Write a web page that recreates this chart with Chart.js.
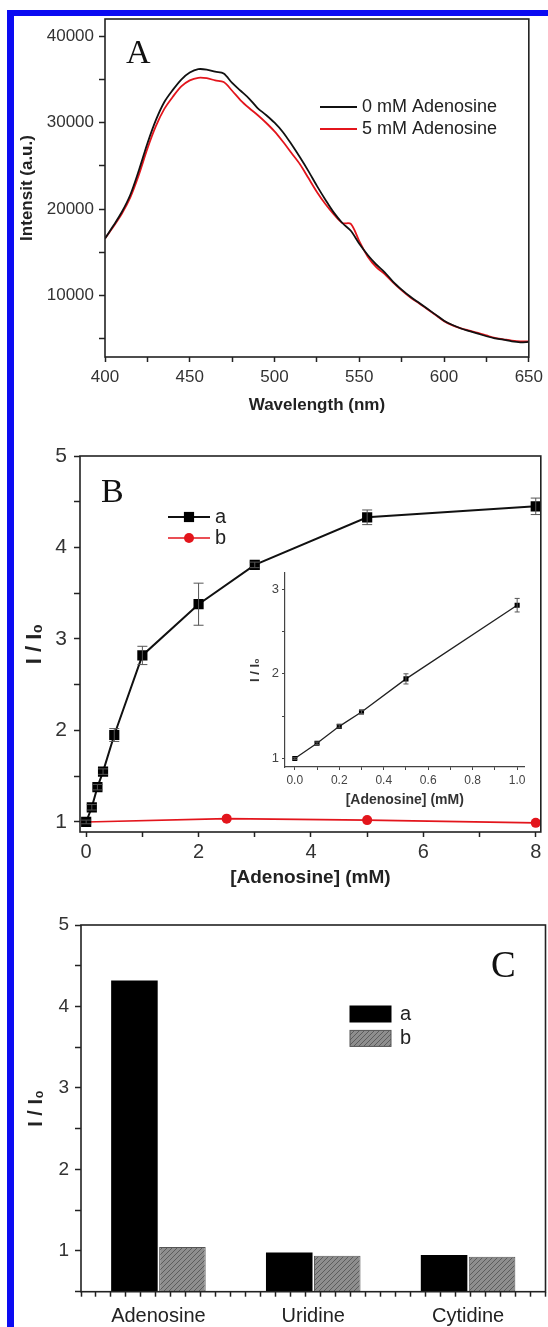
<!DOCTYPE html>
<html>
<head>
<meta charset="utf-8">
<title>Adenosine response</title>
<script src="https://cdn.jsdelivr.net/npm/chart.js@4.4.1/dist/chart.umd.min.js"></script>
<style>
    html, body { margin: 0; padding: 0; background: #fff; }
    #page { position: relative; width: 548px; height: 1327px; overflow: hidden; background: #fff; }
    #page canvas { position: absolute; }
    .edge { position: absolute; background: #0b0bf2; z-index: 5; }
</style>
</head>
<body>
<div id="page">
    <canvas id="chartA" width="548" height="420" style="left:0;top:0"></canvas>
    <canvas id="chartB" width="548" height="470" style="left:0;top:420px"></canvas>
    <canvas id="chartInset" width="310" height="260" style="left:230px;top:560px"></canvas>
    <canvas id="chartC" width="548" height="437" style="left:0;top:890px"></canvas>
    <div class="edge" style="left:7px;top:10px;width:7px;bottom:0"></div>
    <div class="edge" style="left:7px;top:10px;right:0;height:6px"></div>
</div>
<script>
// ---- Panel A: emission spectra
const wavelengths = [400, 405, 410, 415, 420, 425, 430, 435, 440, 445, 450, 455, 460, 465, 470, 475, 480, 485, 490, 495,
    500, 505, 510, 515, 520, 525, 530, 535, 540, 545, 550, 555, 560, 565, 570, 575, 580, 585, 590, 595,
    600, 605, 610, 615, 620, 625, 630, 635, 640, 645, 650];
const intensity0mM = [16600, 18100, 19700, 21700, 24500, 27600, 30300, 32400, 33800, 35000, 35800, 36200, 36150, 35900, 35700, 34600, 33700, 32800, 31700, 30900,
    30000, 28900, 27500, 26000, 24400, 22700, 21100, 19600, 18400, 17500, 16000, 14700, 13600, 12700, 11600, 10700, 9900, 9200, 8500, 7800,
    7100, 6600, 6200, 5900, 5600, 5300, 5050, 4900, 4700, 4600, 4650];
const intensity5mM = [16600, 18000, 19500, 21400, 24000, 27000, 29600, 31600, 33000, 34200, 34900, 35200, 35150, 34900, 34700, 33700, 32600, 31700, 30900, 30000,
    29000, 27800, 26500, 25200, 23600, 22000, 20600, 19400, 18400, 18300, 16300, 14500, 13300, 12500, 11500, 10600, 9800, 9150, 8450, 7750,
    7050, 6550, 6200, 5950, 5700, 5400, 5100, 4950, 4800, 4700, 4700];
const specXTicks = [400, 425, 450, 475, 500, 525, 550, 575, 600, 625, 650];
const specYTicks = [5000, 10000, 15000, 20000, 25000, 30000, 35000, 40000];

// ---- Panel B: titration, a = probe, b = control
const concA = [0, 0.1, 0.2, 0.3, 0.5, 1, 2, 3, 5, 8];
const ratioA = [1.0, 1.16, 1.38, 1.55, 1.95, 2.82, 3.38, 3.81, 4.33, 4.45];
const errA = [0.02, 0.03, 0.03, 0.03, 0.07, 0.1, 0.23, 0.03, 0.08, 0.09];
const concB = [0, 2.5, 5, 8];
const ratioB = [1.0, 1.036, 1.02, 0.99];
const titrXTicks = [0, 1, 2, 3, 4, 5, 6, 7, 8];
const titrYTicks = [1, 1.5, 2, 2.5, 3, 3.5, 4, 4.5, 5];

// inset: linear range
const insetConc = [0, 0.1, 0.2, 0.3, 0.5, 1.0];
const insetRatio = [1.0, 1.18, 1.38, 1.55, 1.94, 2.81];
const insetErr = [0.01, 0.015, 0.02, 0.02, 0.06, 0.08];
const insetXTicks = [0, 0.1, 0.2, 0.3, 0.4, 0.5, 0.6, 0.7, 0.8, 0.9, 1.0];
const insetYTicks = [1, 1.5, 2, 2.5, 3];

// ---- Panel C: selectivity
const nucleosides = ['Adenosine', 'Uridine', 'Cytidine'];
const selectA = [4.32, 0.98, 0.95];
const selectB = [1.05, 0.94, 0.93];
const selectYTicks = [0.5, 1, 1.5, 2, 2.5, 3, 3.5, 4, 4.5, 5];

const FONT = 'Arial, "Liberation Sans", sans-serif';
const SERIF = '"Times New Roman", "Liberation Serif", serif';
const INK = '#222';
const RED = '#e3151c';

const pairs = (xs, ys) => xs.map((x, i) => ({ x, y: ys[i] }));
const fixTicks = values => axis => { axis.ticks = values.map(v => ({ value: v })); };
const fixWidth = w => axis => { axis.width = w; };
const fixHeight = h => axis => { axis.height = h; };

// outward tick marks only, frame is drawn by the plugin below
function axisStyle(tickLen) {
    return {
        border: { display: false },
        grid: { drawOnChartArea: false, drawTicks: true, tickLength: tickLen, tickColor: INK, tickWidth: 1.5 }
    };
}

const framePlugin = {
    id: 'frame',
    defaults: { display: false, color: INK, width: 1.6 },
    afterDraw(chart, args, opts) {
        if (!opts.display) return;
        const { ctx, chartArea: a } = chart;
        ctx.save();
        ctx.strokeStyle = opts.color;
        ctx.lineWidth = opts.width;
        ctx.strokeRect(a.left, a.top, a.right - a.left, a.bottom - a.top);
        ctx.restore();
    }
};

const errorBarPlugin = {
    id: 'errbars',
    afterDatasetsDraw(chart) {
        const ctx = chart.ctx;
        chart.data.datasets.forEach((ds, di) => {
            if (!ds.errors) return;
            const meta = chart.getDatasetMeta(di);
            const ys = chart.scales[meta.yAxisID];
            ctx.save();
            ctx.strokeStyle = ds.errorColor || '#555';
            ctx.lineWidth = 1;
            ds.data.forEach((p, i) => {
                const e = ds.errors[i];
                const x = meta.data[i].x;
                const top = ys.getPixelForValue(p.y + e);
                const bot = ys.getPixelForValue(p.y - e);
                const c = ds.capWidth || 4;
                ctx.beginPath();
                ctx.moveTo(x, top); ctx.lineTo(x, bot);
                ctx.moveTo(x - c, top); ctx.lineTo(x + c, top);
                ctx.moveTo(x - c, bot); ctx.lineTo(x + c, bot);
                ctx.stroke();
            });
            ctx.restore();
        });
    }
};

// hand-placed legend, samples taken from the datasets
const keyPlugin = {
    id: 'key',
    defaults: { display: false },
    afterDraw(chart, args, o) {
        if (!o.display) return;
        const ctx = chart.ctx;
        ctx.save();
        ctx.font = o.font;
        ctx.textBaseline = 'middle';
        chart.data.datasets.forEach((ds, i) => {
            const y = o.y + i * o.gap;
            if (o.kind === 'box') {
                ctx.fillStyle = ds.backgroundColor;
                ctx.fillRect(o.x, y - o.boxH / 2, o.boxW, o.boxH);
                ctx.strokeStyle = ds.borderColor || '#000';
                ctx.lineWidth = 1;
                ctx.strokeRect(o.x, y - o.boxH / 2, o.boxW, o.boxH);
            } else {
                ctx.strokeStyle = ds.borderColor;
                ctx.lineWidth = ds.borderWidth;
                ctx.beginPath();
                ctx.moveTo(o.x, y); ctx.lineTo(o.x + o.boxW, y);
                ctx.stroke();
                if (o.marker) {
                    ctx.fillStyle = ds.pointBackgroundColor;
                    Chart.helpers.drawPoint(ctx, { pointStyle: ds.pointStyle, radius: ds.pointRadius, rotation: 0, borderWidth: 0 }, o.x + o.boxW / 2, y);
                }
            }
            ctx.fillStyle = INK;
            ctx.fillText(ds.label, o.x + o.boxW + o.textGap, y);
        });
        ctx.restore();
    }
};

const letterPlugin = {
    id: 'letter',
    defaults: { display: false },
    afterDraw(chart, args, o) {
        if (!o.display) return;
        const ctx = chart.ctx;
        ctx.save();
        ctx.font = o.font;
        ctx.fillStyle = '#111';
        ctx.textBaseline = 'alphabetic';
        ctx.fillText(o.text, o.x, o.y);
        ctx.restore();
    }
};

Chart.register(framePlugin, errorBarPlugin, keyPlugin, letterPlugin);
Chart.defaults.font.family = FONT;
Chart.defaults.color = INK;
Chart.defaults.animation = false;
Chart.defaults.plugins.legend.display = false;
Chart.defaults.plugins.tooltip.enabled = false;

function renderSpectra() {
    new Chart(document.getElementById('chartA'), {
        type: 'line',
        data: {
            labels: wavelengths,
            datasets: [
                { label: '0 mM Adenosine', data: pairs(wavelengths, intensity0mM), borderColor: '#111', borderWidth: 1.8, pointRadius: 0, tension: 0.3 },
                { label: '5 mM Adenosine', data: pairs(wavelengths, intensity5mM), borderColor: RED, borderWidth: 1.8, pointRadius: 0, tension: 0.3 }
            ]
        },
        options: {
            responsive: false,
            layout: { padding: { left: 0, right: 16, top: 19, bottom: 0 } },
            scales: {
                x: {
                    type: 'linear', min: 400, max: 650, ...axisStyle(5),
                    afterBuildTicks: fixTicks(specXTicks), afterFit: fixHeight(63),
                    ticks: { autoSkip: false, maxRotation: 0, padding: 5, font: { size: 17 }, color: '#333',
                        callback: v => (v % 50 === 0 ? v : '') },
                    title: { display: true, text: 'Wavelength (nm)', font: { size: 17, weight: 'bold' }, padding: { bottom: 4 } }
                },
                y: {
                    min: 2900, max: 42000, ...axisStyle(6),
                    afterBuildTicks: fixTicks(specYTicks), afterFit: fixWidth(105),
                    ticks: { autoSkip: false, padding: 5, font: { size: 17 }, color: '#333',
                        callback: v => (v % 10000 === 0 ? v : '') },
                    title: { display: true, text: 'Intensit (a.u.)', font: { size: 17, weight: 'bold' }, padding: { top: 17 } }
                }
            },
            plugins: {
                frame: { display: true },
                key: { display: true, x: 320, y: 107, gap: 22, boxW: 37, textGap: 5, font: '18px ' + FONT },
                letter: { display: true, text: 'A', x: 126, y: 63, font: '34px ' + SERIF }
            }
        }
    });
}

function renderTitration() {
    new Chart(document.getElementById('chartB'), {
        type: 'scatter',
        data: {
            datasets: [
                { label: 'a', data: pairs(concA, ratioA), errors: errA, capWidth: 5, showLine: true,
                  borderColor: '#111', borderWidth: 2, pointStyle: 'rect', pointRadius: 7.2,
                  pointBackgroundColor: '#000', pointBorderWidth: 0 },
                { label: 'b', data: pairs(concB, ratioB), showLine: true,
                  borderColor: RED, borderWidth: 1.6, pointStyle: 'circle', pointRadius: 5,
                  pointBackgroundColor: RED, pointBorderWidth: 0 }
            ]
        },
        options: {
            responsive: false,
            layout: { padding: { left: 0, right: 5, top: 36, bottom: 0 } },
            scales: {
                x: {
                    type: 'linear', min: -0.11, max: 8.09, ...axisStyle(5),
                    afterBuildTicks: fixTicks(titrXTicks), afterFit: fixHeight(58),
                    ticks: { autoSkip: false, maxRotation: 0, padding: 3, font: { size: 20 }, color: '#333',
                        callback: v => (v % 2 === 0 ? v : '') },
                    title: { display: true, text: '[Adenosine] (mM)', font: { size: 19, weight: 'bold' }, padding: { bottom: 1 } }
                },
                y: {
                    min: 0.89, max: 5, ...axisStyle(6),
                    afterBuildTicks: fixTicks(titrYTicks), afterFit: fixWidth(80),
                    ticks: { autoSkip: false, padding: 7, font: { size: 21 }, color: '#333',
                        callback: v => (Number.isInteger(v) ? v : '') },
                    title: { display: true, text: 'I / I₀', font: { size: 22, weight: 'bold' }, padding: { top: 22 } }
                }
            },
            plugins: {
                frame: { display: true },
                key: { display: true, marker: true, x: 168, y: 97, gap: 21, boxW: 42, textGap: 5, font: '20px ' + FONT },
                letter: { display: true, text: 'B', x: 101, y: 82, font: '34px ' + SERIF }
            }
        }
    });

    new Chart(document.getElementById('chartInset'), {
        type: 'scatter',
        data: {
            datasets: [
                { label: 'a', data: pairs(insetConc, insetRatio), errors: insetErr, capWidth: 2.5, showLine: true,
                  borderColor: '#222', borderWidth: 1.3, pointStyle: 'rect', pointRadius: 3.6,
                  pointBackgroundColor: '#000', pointBorderWidth: 0 }
            ]
        },
        options: {
            responsive: false,
            layout: { padding: { left: 0, right: 15.5, top: 13, bottom: 0 } },
            scales: {
                x: {
                    type: 'linear', min: -0.044, max: 1.033,
                    border: { display: true, color: '#444', width: 1.2 },
                    grid: { drawOnChartArea: false, tickLength: 3, tickColor: '#444' },
                    afterBuildTicks: fixTicks(insetXTicks), afterFit: fixHeight(53),
                    ticks: { autoSkip: false, maxRotation: 0, padding: 3, font: { size: 12 }, color: '#444',
                        callback: v => (Math.round(v * 10) % 2 === 0 ? v.toFixed(1) : '') },
                    title: { display: true, text: '[Adenosine] (mM)', font: { size: 14, weight: 'bold' }, color: '#333', padding: { bottom: 11 } }
                },
                y: {
                    min: 0.9, max: 3.19,
                    border: { display: true, color: '#444', width: 1.2 },
                    grid: { drawOnChartArea: false, tickLength: 3, tickColor: '#444' },
                    afterBuildTicks: fixTicks(insetYTicks), afterFit: fixWidth(55),
                    ticks: { autoSkip: false, padding: 3, font: { size: 13 }, color: '#444',
                        callback: v => (Number.isInteger(v) ? v : '') },
                    title: { display: true, text: 'I / I₀', font: { size: 13, weight: 'bold' }, color: '#333', padding: { top: 18 } }
                }
            }
        }
    });
}

// gray bars carry a fine diagonal hatch
function hatchPattern(ctx) {
    const tile = document.createElement('canvas');
    tile.width = 5; tile.height = 5;
    const t = tile.getContext('2d');
    t.fillStyle = '#8e8e8e';
    t.fillRect(0, 0, 5, 5);
    t.strokeStyle = '#5c5c5c';
    t.lineWidth = 1;
    t.beginPath();
    t.moveTo(0, 5); t.lineTo(5, 0);
    t.moveTo(-1, 1); t.lineTo(1, -1);
    t.moveTo(4, 6); t.lineTo(6, 4);
    t.stroke();
    return ctx.createPattern(tile, 'repeat');
}

function renderSelectivity() {
    const canvas = document.getElementById('chartC');
    const minorX = [];
    for (let k = 0; k <= 30; k++) minorX.push(-0.5 + k * 0.1);

    new Chart(canvas, {
        type: 'bar',
        data: {
            labels: nucleosides,
            datasets: [
                { label: 'a', data: selectA, backgroundColor: '#000', borderColor: '#000', borderWidth: 0,
                  categoryPercentage: 0.62, barPercentage: 0.97 },
                { label: 'b', data: selectB, backgroundColor: hatchPattern(canvas.getContext('2d')), borderColor: '#555', borderWidth: 1,
                  categoryPercentage: 0.62, barPercentage: 0.97 }
            ]
        },
        options: {
            responsive: false,
            layout: { padding: { left: 0, right: 2.5, top: 35, bottom: 0 } },
            scales: {
                x: {
                    type: 'category', weight: 1,
                    border: { display: false },
                    grid: { display: false, drawTicks: false },
                    afterFit: fixHeight(29.3),
                    ticks: { padding: 7, font: { size: 20 }, color: '#222' }
                },
                xTicks: {
                    type: 'linear', position: 'bottom', weight: 0, min: -0.5, max: 2.5, ...axisStyle(5),
                    afterBuildTicks: fixTicks(minorX), afterFit: fixHeight(6),
                    ticks: { display: false }
                },
                y: {
                    min: 0.5, max: 5, ...axisStyle(6),
                    afterBuildTicks: fixTicks(selectYTicks), afterFit: fixWidth(81),
                    ticks: { autoSkip: false, padding: 6, font: { size: 19 }, color: '#333',
                        callback: v => (Number.isInteger(v) ? v : '') },
                    title: { display: true, text: 'I / I₀', font: { size: 20, weight: 'bold' }, padding: { top: 24 } }
                }
            },
            plugins: {
                frame: { display: true },
                key: { display: true, kind: 'box', x: 350, y: 124, gap: 24.4, boxW: 41, boxH: 16, textGap: 9, font: '20px ' + FONT },
                letter: { display: true, text: 'C', x: 491, y: 87, font: '37px ' + SERIF }
            }
        }
    });
}

renderSpectra();
renderTitration();
renderSelectivity();
</script>
</body>
</html>
